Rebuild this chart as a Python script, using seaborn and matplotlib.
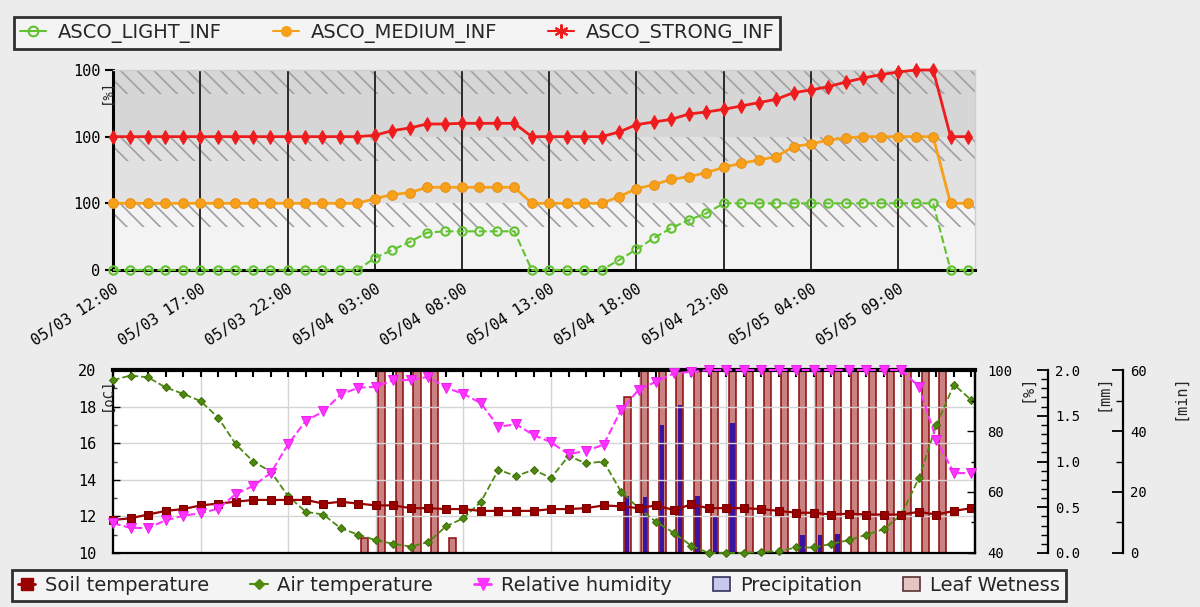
import seaborn as sns
import matplotlib.pyplot as plt
from matplotlib.lines import Line2D
from matplotlib.patches import Patch
from matplotlib.ticker import MultipleLocator

sns.set_theme(style="white")
plt.rcParams['font.family'] = ['DejaVu Sans']
plt.rcParams['hatch.linewidth'] = 1.2

# hours since 05/03 12:00
hours = list(range(50))
tick_hours = [0, 5, 10, 15, 20, 25, 30, 35, 40, 45]
tick_labels = ["05/03 12:00", "05/03 17:00", "05/03 22:00", "05/04 03:00",
               "05/04 08:00", "05/04 13:00", "05/04 18:00", "05/04 23:00",
               "05/05 04:00", "05/05 09:00"]

# infection levels (0..3 on the upper chart)
asco_light = [0, 0, 0, 0, 0, 0, 0, 0, 0, 0, 0, 0, 0, 0, 0,
              0.18, 0.30, 0.42, 0.56, 0.58, 0.58, 0.58, 0.58, 0.58,
              0, 0, 0, 0, 0,
              0.15, 0.31, 0.48, 0.63, 0.75, 0.85,
              1, 1, 1, 1, 1, 1, 1, 1, 1, 1, 1, 1, 1,
              0, 0]
asco_medium = [1, 1, 1, 1, 1, 1, 1, 1, 1, 1, 1, 1, 1, 1, 1,
               1.07, 1.13, 1.16, 1.24, 1.24, 1.24, 1.24, 1.24, 1.24,
               1, 1, 1, 1, 1,
               1.10, 1.22, 1.28, 1.36, 1.40, 1.46,
               1.54, 1.60, 1.65, 1.70, 1.85, 1.89, 1.95, 1.98, 2, 2, 2, 2, 2,
               1, 1]
asco_strong = [2, 2, 2, 2, 2, 2, 2, 2, 2, 2, 2, 2, 2, 2, 2,
               2.02, 2.09, 2.13, 2.19, 2.19, 2.2, 2.2, 2.2, 2.2,
               2, 2, 2, 2, 2,
               2.07, 2.18, 2.22, 2.26, 2.34, 2.37,
               2.41, 2.46, 2.51, 2.56, 2.66, 2.70, 2.75, 2.82, 2.88, 2.93, 2.97, 3.0, 3.0,
               2, 2]
level_labels = ["0", "100", "100", "100"]

# weather
soil_temp = [11.8, 11.9, 12.1, 12.3, 12.4, 12.6, 12.7, 12.8, 12.9, 12.9,
             12.9, 12.9, 12.7, 12.8, 12.7, 12.6, 12.6, 12.45, 12.45, 12.4,
             12.4, 12.3, 12.3, 12.3, 12.3, 12.4, 12.4, 12.45, 12.6, 12.55,
             12.45, 12.6, 12.35, 12.65, 12.45, 12.45, 12.45, 12.4, 12.3, 12.2,
             12.2, 12.1, 12.15, 12.1, 12.1, 12.1, 12.25, 12.1, 12.3, 12.45]
air_temp = [19.45, 19.7, 19.6, 19.05, 18.7, 18.3, 17.4, 15.95, 15.0, 14.45,
            13.1, 12.25, 12.1, 11.35, 11.0, 10.7, 10.5, 10.35, 10.6, 11.45,
            11.9, 12.8, 14.55, 14.2, 14.55, 14.1, 15.3, 14.9, 15.0, 13.35,
            12.45, 11.7, 11.1, 10.4, 10.0, 10.0, 10.0, 10.05, 10.1, 10.3,
            10.3, 10.5, 10.7, 11.0, 11.3, 12.1, 14.1, 17.0, 19.2, 18.35]
rel_humidity = [49.8, 48.2, 48.2, 50.7, 52.2, 53.1, 54.5, 59.3, 62.0, 66.2,
                75.7, 83.3, 86.4, 92.0, 94.2, 94.5, 96.7, 96.7, 97.8, 94.2,
                92.2, 89.1, 81.4, 82.2, 78.7, 76.3, 72.4, 73.5, 75.5, 86.9,
                93.5, 96.2, 98.9, 99.4, 100, 100, 100, 100, 100, 100,
                100, 100, 100, 100, 100, 100, 94.5, 77.1, 66.2, 66.2]
precipitation = [0, 0, 0, 0, 0, 0, 0, 0, 0, 0,
                 0, 0, 0, 0, 0, 0, 0, 0, 0, 0,
                 0, 0, 0, 0, 0, 0, 0, 0, 0, 0.62,
                 0.61, 1.40, 1.62, 0.62, 0.40, 1.42, 0, 0, 0, 0.20,
                 0.20, 0.21, 0, 0, 0, 0, 0, 0, 0, 0]
leaf_wetness = [0, 0, 0, 0, 0, 0, 0, 0, 0, 0,
                0, 0, 0, 0, 5, 60, 60, 60, 60, 5,
                0, 0, 0, 0, 0, 0, 0, 0, 0, 51,
                60, 60, 60, 60, 60, 60, 60, 60, 60, 60,
                60, 60, 60, 60, 60, 60, 60, 60, 0, 0]

mono = 'DejaVu Sans Mono'
fig = plt.figure(figsize=(12, 6.07), dpi=100, facecolor='#ececec')

# ---------------- upper chart ----------------
ax_t = fig.add_axes([0.0942, 0.5552, 0.7183, 0.3295])
ax_t.set_facecolor('none')
ax_t.set_xlim(0, 49.4)
ax_t.set_ylim(0, 3)
ax_t.axhspan(2, 3, color='#d6d6d6', lw=0, zorder=0)
ax_t.axhspan(1, 2, color='#e1e1e1', lw=0, zorder=0)
ax_t.axhspan(0, 1, color='#f3f3f3', lw=0, zorder=0)
for lo in (0, 1, 2):
    ax_t.axhspan(lo + 0.64, lo + 1, facecolor='none', edgecolor='#a0a0a0',
                 hatch='\\\\', lw=0, zorder=0.5)

sns.lineplot(x=hours, y=asco_strong, ax=ax_t, color='#ee1c1c', lw=2,
             marker='d', markersize=7, markeredgecolor='#ee1c1c', clip_on=False, zorder=5)
sns.lineplot(x=hours, y=asco_medium, ax=ax_t, color='#f7a11a', lw=2,
             marker='o', markersize=7, markeredgecolor='#e8901a', clip_on=False, zorder=4)
sns.lineplot(x=hours, y=asco_light, ax=ax_t, color='#62c230', lw=1.5, linestyle='--',
             marker='o', markersize=6, markerfacecolor='none', markeredgewidth=1.5,
             markeredgecolor='#62c230', clip_on=False, zorder=3)

ax_t.set_yticks([0, 1, 2, 3], level_labels)
ax_t.set_xticks(tick_hours, tick_labels, rotation=33, ha='right', rotation_mode='anchor')
ax_t.xaxis.set_minor_locator(MultipleLocator(1))
ax_t.grid(axis='x', which='major', color='#2a2a2a', lw=1.4, zorder=1)
ax_t.tick_params(axis='x', which='major', direction='inout', length=9, width=1.2,
                 pad=4, labelsize=11, labelfontfamily=mono, colors='black')
ax_t.tick_params(axis='x', which='minor', direction='inout', length=6, width=1, color='black')
ax_t.tick_params(axis='y', direction='out', length=6, width=1.5, left=True, pad=3,
                 labelsize=11, labelfontfamily=mono, colors='black')
for s in ('left', 'bottom'):
    ax_t.spines[s].set_color('black')
    ax_t.spines[s].set_linewidth(2.2)
for s in ('top', 'right'):
    ax_t.spines[s].set_color('#cfcfcf')
    ax_t.spines[s].set_linewidth(1)
ax_t.text(-0.0075, 0.955, '[%]', transform=ax_t.transAxes, rotation=90,
          ha='center', va='top', fontsize=10, family=mono)

# ---------------- lower chart ----------------
ax_b = fig.add_axes([0.0942, 0.0890, 0.7183, 0.3014])
ax_h = ax_b.twinx()
ax_mm = ax_b.twinx()
ax_min = ax_b.twinx()

ax_min.set_zorder(1)
ax_min.patch.set_visible(True)
ax_min.patch.set_facecolor('white')
ax_mm.set_zorder(2)
ax_mm.patch.set_visible(False)
ax_b.set_zorder(3)
ax_b.patch.set_visible(False)
ax_h.set_zorder(4)
ax_h.patch.set_visible(False)

for a in (ax_b, ax_h, ax_mm, ax_min):
    a.set_xlim(0, 49.2)

ax_min.bar([h + 0.35 for h in hours], leaf_wetness, width=0.4, facecolor='#c98181',
           edgecolor='#8b0a0a', linewidth=1.1)
ax_mm.bar([h + 0.35 for h in hours], precipitation, width=0.25, color='#3a14a0', linewidth=0)

sns.lineplot(x=hours, y=air_temp, ax=ax_b, color='#4f8a10', lw=1.3, linestyle='--',
             marker='D', markersize=4, markeredgecolor='#3f6f08', clip_on=False, zorder=3)
sns.lineplot(x=hours, y=soil_temp, ax=ax_b, color='#990000', lw=1.6,
             marker='s', markersize=6, markeredgecolor='#7a0000', clip_on=False, zorder=4)
sns.lineplot(x=hours, y=rel_humidity, ax=ax_h, color='#ff33ff', lw=1.5, linestyle='--',
             marker='v', markersize=7, markeredgecolor='#ee22ee', clip_on=False, zorder=5)

ax_b.set_ylim(10, 20)
ax_b.set_yticks([10, 12, 14, 16, 18, 20])
ax_b.yaxis.set_minor_locator(MultipleLocator(1))
ax_b.set_xticks(tick_hours)
ax_b.xaxis.set_minor_locator(MultipleLocator(1))
ax_b.xaxis.tick_top()
ax_b.tick_params(axis='x', which='both', direction='in', labeltop=False, labelbottom=False,
                 top=True, bottom=False, length=5, width=1.5, color='black')
ax_b.tick_params(axis='y', which='major', direction='in', length=5, width=1, pad=12,
                 labelsize=11, labelfontfamily=mono, colors='black')
ax_b.tick_params(axis='y', which='minor', direction='in', length=3, width=1, color='#444444')
ax_b.grid(which='major', color='#d4d4d4', lw=1)
for s in ('left', 'bottom', 'right'):
    ax_b.spines[s].set_color('black')
    ax_b.spines[s].set_linewidth(1.6)
ax_b.spines['top'].set_color('black')
ax_b.spines['top'].set_linewidth(3)
ax_b.text(-0.0075, 0.96, '[oC]', transform=ax_b.transAxes, rotation=90,
          ha='center', va='top', fontsize=10, family=mono)

ax_h.set_ylim(40, 100)
ax_h.set_yticks([40, 60, 80, 100])
ax_h.yaxis.set_minor_locator(MultipleLocator(10))
ax_h.tick_params(axis='y', which='major', direction='in', length=6, width=1, pad=9,
                 labelsize=10, labelfontfamily=mono, colors='black')
ax_h.tick_params(axis='y', which='minor', direction='in', length=3, width=1, color='black')

ax_mm.set_ylim(0, 2)
ax_mm.set_yticks([0, 0.5, 1.0, 1.5, 2.0], ['0.0', '0.5', '1.0', '1.5', '2.0'])
ax_mm.yaxis.set_minor_locator(MultipleLocator(0.1))
ax_mm.spines['right'].set_position(('axes', 1.0847))
ax_mm.tick_params(axis='y', which='major', direction='in', length=8, width=1.3, pad=5,
                  labelsize=10, labelfontfamily=mono, colors='black')
ax_mm.tick_params(axis='y', which='minor', direction='in', length=5, width=1, color='black')

ax_min.set_ylim(0, 60)
ax_min.set_yticks([0, 20, 40, 60])
ax_min.yaxis.set_minor_locator(MultipleLocator(10))
ax_min.spines['right'].set_position(('axes', 1.1717))
ax_min.tick_params(axis='y', which='major', direction='in', length=8, width=1.3, pad=5,
                   labelsize=10, labelfontfamily=mono, colors='black')
ax_min.tick_params(axis='y', which='minor', direction='in', length=5, width=1, color='black')

for a in (ax_h, ax_mm, ax_min):
    for s in ('top', 'bottom', 'left'):
        a.spines[s].set_visible(False)
    a.spines['right'].set_color('black')
    a.spines['right'].set_linewidth(1.6)
    a.set_ylabel('')
    a.tick_params(axis='x', which='both', top=False, bottom=False,
                  labeltop=False, labelbottom=False)

for txt, xpos in (('[%]', 1.06), ('[mm]', 1.1485), ('[min]', 1.238)):
    ax_b.text(xpos, 0.975, txt, transform=ax_b.transAxes, rotation=90,
              ha='center', va='top', fontsize=11, family=mono)

# ---------------- legends ----------------
top_handles = [
    Line2D([], [], color='#62c230', lw=1.5, marker='o', markerfacecolor='none',
           markeredgewidth=1.5, markersize=7),
    Line2D([], [], color='#f7a11a', lw=1.5, marker='o', markersize=7),
    Line2D([], [], color='#ee1c1c', lw=1.5, marker=(6, 2, 0), markersize=10,
           markeredgewidth=1.5),
]
leg1 = fig.legend(top_handles, ['ASCO_LIGHT_INF', 'ASCO_MEDIUM_INF', 'ASCO_STRONG_INF'],
                  loc='upper left', bbox_to_anchor=(0.012, 0.972), borderaxespad=0,
                  ncol=3, fontsize=14, frameon=True, fancybox=False, handlelength=1.35,
                  handletextpad=0.6, columnspacing=2.6, borderpad=0.3)
leg1.get_frame().set_edgecolor('black')
leg1.get_frame().set_linewidth(2)
leg1.get_frame().set_facecolor('#f7f7f7')

bottom_handles = [
    Line2D([], [], color='#990000', lw=2, marker='s', markersize=8),
    Line2D([], [], color='#4f8a10', lw=1.5, marker='D', markersize=5),
    Line2D([], [], color='#ff33ff', lw=2, marker='v', markersize=9),
    Patch(facecolor='#c8c8ee', edgecolor='#333355', lw=1.2),
    Patch(facecolor='#e6c4c4', edgecolor='#553333', lw=1.2),
]
leg2 = fig.legend(bottom_handles, ['Soil temperature', 'Air temperature', 'Relative humidity',
                                   'Precipitation', 'Leaf Wetness'],
                  loc='upper left', bbox_to_anchor=(0.01, 0.061), borderaxespad=0,
                  ncol=5, fontsize=14, frameon=True, fancybox=False, handlelength=0.9,
                  handletextpad=0.5, columnspacing=2.1, borderpad=0.3)
leg2.get_frame().set_edgecolor('black')
leg2.get_frame().set_linewidth(2)
leg2.get_frame().set_facecolor('#f7f7f7')

fig.savefig('out.png', dpi=100, facecolor=fig.get_facecolor())
